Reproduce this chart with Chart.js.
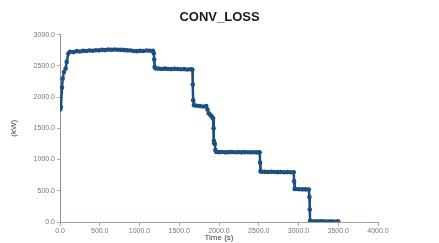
<!DOCTYPE html>
<html>
<head>
<meta charset="utf-8">
<script src="https://cdn.jsdelivr.net/npm/chart.js@4.4.1/dist/chart.umd.min.js"></script>
<style>
  html, body { margin: 0; padding: 0; background: #fff; }
  #wrap { width: 439px; height: 243px; }
</style>
</head>
<body>
<div id="wrap"><canvas id="lossChart"></canvas></div>
<script>
// Time (s) and converter loss (kW)
const timeS = [
    0, 12, 25, 34, 50, 71, 84, 105, 126,
    170, 210, 250, 290, 330, 370, 410, 450, 490, 530, 570, 610, 650, 690,
    730, 770, 810, 850, 890, 930, 970, 1010, 1050, 1090, 1130, 1170, 1180,
    1185, 1190,
    1200, 1240, 1280, 1320, 1360, 1400, 1440, 1480, 1520, 1560, 1600, 1640, 1665,
    1670, 1675,
    1685, 1720, 1760, 1800, 1840,
    1855, 1870, 1885, 1900, 1915, 1925, 1932, 1936, 1940, 1948, 1955,
    1965, 2000, 2040, 2080, 2120, 2160, 2200, 2240, 2280, 2320, 2360, 2400, 2440, 2480, 2512,
    2517, 2522,
    2540, 2580, 2620, 2660, 2700, 2740, 2780, 2820, 2860, 2900, 2940,
    2945, 2952,
    2970, 3010, 3050, 3090, 3130,
    3137, 3142, 3146,
    3160, 3200, 3240, 3280, 3320, 3360, 3400, 3440, 3480, 3500
];
const lossKW = [
    1800, 1840, 2150, 2296, 2400, 2456, 2563, 2697, 2725,
    2720, 2735, 2730, 2740, 2738, 2745, 2742, 2750, 2748, 2755, 2752, 2760, 2756, 2762,
    2758, 2755, 2752, 2748, 2745, 2738, 2735, 2740, 2738, 2745, 2742, 2740, 2700,
    2600, 2480,
    2460, 2455, 2450, 2455, 2450, 2448, 2452, 2450, 2445, 2448, 2442, 2445, 2440,
    2200, 1950,
    1870, 1860, 1855, 1850, 1855,
    1800, 1740, 1720, 1700, 1680, 1660, 1500, 1300, 1260, 1250, 1150,
    1120, 1118, 1120, 1115, 1118, 1120, 1116, 1118, 1115, 1118, 1116, 1115, 1117, 1114, 1115,
    950, 810,
    805, 802, 800, 803, 800, 798, 800, 797, 799, 796, 795,
    650, 530,
    528, 525, 523, 522, 520,
    400, 200, 20,
    12, 10, 12, 10, 11, 9, 10, 9, 8, 8
];
const chartTitle = 'CONV_LOSS';
const xAxisTitle = 'Time (s)';
const yAxisTitle = '(kW)';

const tickFont = { family: 'Liberation Sans, Arial, sans-serif', size: 7 };

new Chart(document.getElementById('lossChart'), {
    type: 'line',
    data: {
        datasets: [{
            label: chartTitle,
            data: timeS.map((t, i) => ({ x: t, y: lossKW[i] })),
            borderColor: '#1d4f80',
            backgroundColor: '#1d4f80',
            borderWidth: 2.5,
            pointRadius: 2.3,
            pointBorderWidth: 0,
            tension: 0
        }]
    },
    options: {
        responsive: true,
        maintainAspectRatio: false,
        animation: false,
        layout: { padding: 0 },
        plugins: {
            legend: { display: false },
            tooltip: { enabled: false },
            title: {
                display: true,
                text: chartTitle,
                color: '#1a1a1a',
                font: { family: 'Liberation Sans, Arial, sans-serif', size: 13, weight: 'bold' },
                padding: { top: 10, bottom: 9 }
            }
        },
        scales: {
            x: {
                type: 'linear',
                min: 0,
                max: 4000,
                ticks: {
                    stepSize: 500,
                    color: '#777',
                    font: tickFont,
                    padding: 1,
                    maxRotation: 0,
                    callback: v => v.toFixed(1)
                },
                grid: { drawOnChartArea: false, tickLength: 4, color: '#b8a8a2' },
                border: { color: '#b09c96', width: 1 },
                title: {
                    display: true,
                    text: xAxisTitle,
                    color: '#444',
                    font: { family: 'Liberation Sans, Arial, sans-serif', size: 8 },
                    padding: 0
                },
                afterFit: s => { s.height = 21; s.paddingRight = 61; }
            },
            y: {
                min: 0,
                max: 3000,
                ticks: {
                    stepSize: 500,
                    color: '#777',
                    font: tickFont,
                    padding: 2,
                    callback: v => v.toFixed(1)
                },
                grid: { drawOnChartArea: false, tickLength: 3, color: '#b8a8a2' },
                border: { color: '#8f8f8f', width: 1 },
                title: {
                    display: true,
                    text: yAxisTitle,
                    color: '#444',
                    font: { family: 'Liberation Sans, Arial, sans-serif', size: 8 },
                    padding: { top: 9, bottom: 0 }
                },
                afterFit: s => { s.width = 60; }
            }
        }
    }
});
</script>
</body>
</html>
